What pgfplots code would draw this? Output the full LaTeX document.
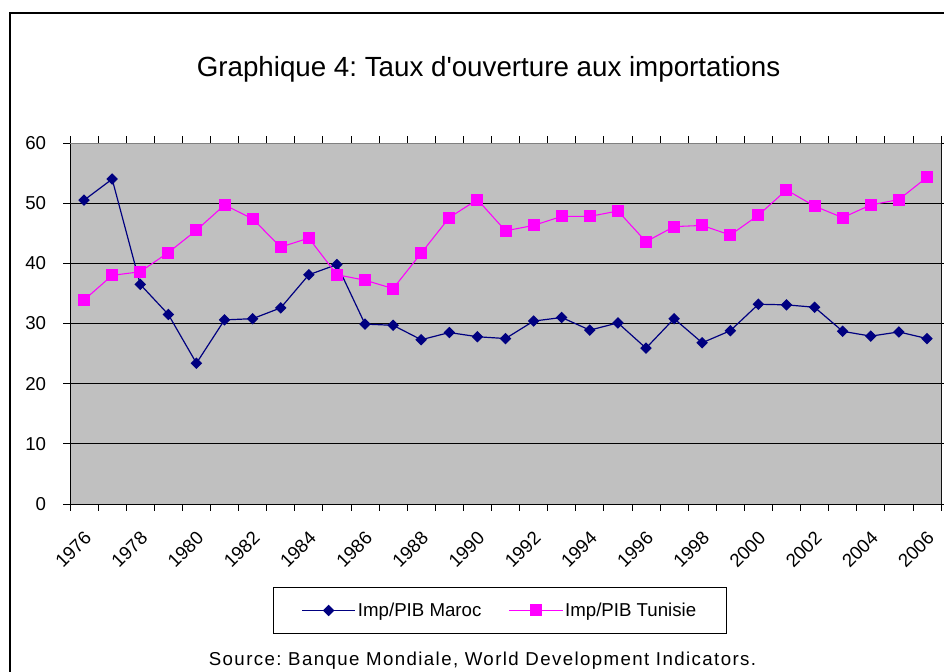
\documentclass[border=0pt]{standalone}
\usepackage{fontspec}
\setmainfont{Liberation Sans}
\usepackage{pgfplots}
\pgfplotsset{compat=1.18}
\definecolor{plotgray}{RGB}{192,192,192}
\definecolor{navyc}{RGB}{0,0,128}
\definecolor{magc}{RGB}{255,0,255}
\pgfplotstableread{
x maroc tunisie
0 50.5 33.9
1 54.0 38.0
2 36.5 38.6
3 31.5 41.8
4 23.4 45.5
5 30.6 49.7
6 30.8 47.4
7 32.6 42.7
8 38.1 44.2
9 39.8 38.1
10 29.9 37.2
11 29.7 35.8
12 27.3 41.7
13 28.5 47.6
14 27.8 50.6
15 27.5 45.4
16 30.4 46.3
17 31.0 47.8
18 28.9 47.8
19 30.1 48.7
20 25.9 43.6
21 30.8 46.1
22 26.8 46.3
23 28.8 44.7
24 33.2 48.0
25 33.1 52.2
26 32.7 49.5
27 28.7 47.6
28 27.9 49.7
29 28.6 50.6
30 27.5 54.3
}\datatable
\frenchspacing
\begin{document}
\begin{tikzpicture}[x=0.75pt,y=0.75pt]
\useasboundingbox (0,0) rectangle (944,671);
\draw[black, line width=0.9pt] (10,-20) -- (10,658) -- (970,658);
\node[font=\fontsize{20.8}{24}\selectfont, anchor=base, inner sep=0pt] at (488.5,594) {Graphique 4: Taux d\textquotesingle ouverture aux importations};
\node[font=\fontsize{14}{16}\selectfont\addfontfeature{LetterSpace=7.5}, anchor=base, inner sep=0pt] at (482.5,6) {Source: Banque Mondiale, World Development Indicators.};
\begin{axis}[
  at={(52.5pt,125.25pt)}, anchor=south west,
  width=653.25pt, height=270.75pt, scale only axis,
  xmin=-0.5, xmax=30.5, ymin=0, ymax=60,
  axis background/.style={fill=plotgray},
  axis line style={draw=black, line width=0.6pt},
  ytick={0,10,...,60},
  minor ytick={0,10,...,60},
  ymajorgrids, grid style={black, line width=0.7pt},
  tick align=outside,
  tick style={black, line width=0.6pt},
  major tick length=0pt,
  minor tick length=5pt,
  xtick={0,2,...,30},
  xticklabels={1976,1978,1980,1982,1984,1986,1988,1990,1992,1994,1996,1998,2000,2002,2004,2006},
  minor xtick={-0.5,0.5,...,30.5},
  xticklabel style={font=\fontsize{14}{16}\selectfont, anchor=east, inner sep=0pt, xshift=3pt, yshift=-23pt, rotate=45},
  yticklabel style={font=\fontsize{14}{16}\selectfont, anchor=east, inner sep=0pt, xshift=-17.75pt, /pgf/number format/assume math mode=true},
  legend columns=2,
  legend style={at={(0.2331,-0.2299)}, anchor=north west, draw=black, line width=0.6pt,
    inner xsep=21pt, inner ysep=10pt,
    font=\fontsize{14}{16}\selectfont,
    nodes={inner sep=1.5pt, line width=0.6pt},
    /tikz/every even column/.append style={column sep=19pt}},
  legend image code/.code={\draw[mark repeat=2,mark phase=2,#1] plot coordinates {(0pt,0pt) (20pt,0pt) (40pt,0pt)};},
]
\addplot[navyc, line width=0.9pt, mark=square*, mark size=2.6pt, mark options={rotate=45, fill=navyc, draw=navyc}] table[x=x, y=maroc] {\datatable};
\addlegendentry{Imp/PIB Maroc}
\addplot[magc, line width=0.8pt, mark=square*, mark size=4.1pt, mark options={fill=magc, draw=magc}] table[x=x, y=tunisie] {\datatable};
\addlegendentry{Imp/PIB Tunisie}
\draw[gray, line width=0.7pt] (rel axis cs:0,1) -- (rel axis cs:1,1) -- (rel axis cs:1,0);
\end{axis}
\end{tikzpicture}
\end{document}
